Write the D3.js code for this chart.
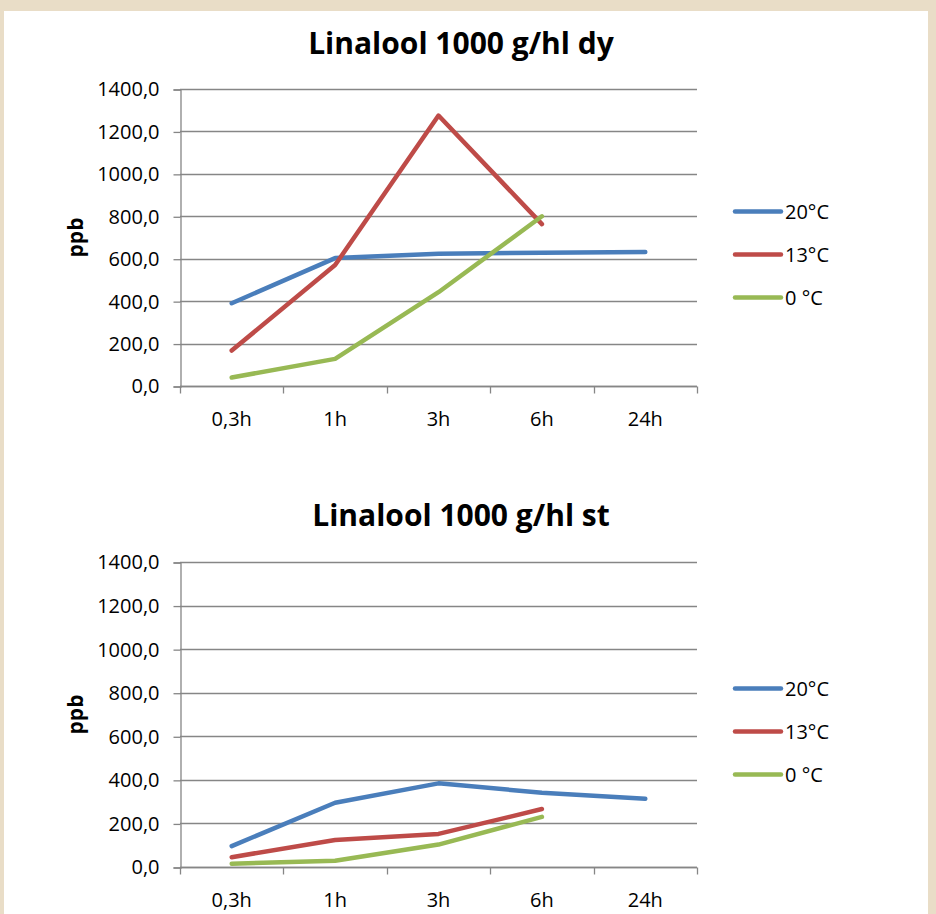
<!DOCTYPE html>
<html>
<head>
<meta charset="utf-8">
<script src="https://cdn.jsdelivr.net/npm/d3@7"></script>
<style>
  html, body { margin: 0; padding: 0; background: #e9ddc7; }
  svg { display: block; }
  text { font-family: "Open Sans", Lato, sans-serif; fill: #000; }
</style>
</head>
<body>
<script>
// Sampling times (categories on the x axis)
const categories = ["0,3h", "1h", "3h", "6h", "24h"];
const seriesNames = ["20°C", "13°C", "0 °C"];
const seriesColors = ["#4a7ebb", "#be4b48", "#98b954"];
const yTicks = [0, 200, 400, 600, 800, 1000, 1200, 1400];

// Linalool (ppb), dosage 1000 g/hl, "dy" trial
const dy20 = [390, 603, 623, 628, 632];
const dy13 = [167, 570, 1275, 763];
const dy0  = [40, 128, 442, 800];

// Linalool (ppb), dosage 1000 g/hl, "st" trial
const st20 = [96, 295, 384, 341, 313];
const st13 = [45, 124, 152, 266];
const st0  = [15, 29, 103, 230];

const charts = [
  { title: "Linalool 1000 g/hl dy", series: [dy20, dy13, dy0], top: 89, bottom: 386, titleY: 54 },
  { title: "Linalool 1000 g/hl st", series: [st20, st13, st0], top: 562, bottom: 867, titleY: 526 }
];

const W = 936, H = 914;
const svg = d3.select("body").append("svg").attr("width", W).attr("height", H);

// white panel on the beige frame
svg.append("rect").attr("x", 4).attr("y", 11).attr("width", 924).attr("height", H - 11).attr("fill", "#fff");

const gridColor = "#868686";
const left = 180, right = 697;
const labelFont = "20px";

charts.forEach(c => {
  const g = svg.append("g");
  const x = d3.scaleBand().domain(categories).range([left, right]);
  const y = d3.scaleLinear().domain([0, 1400]).range([c.bottom, c.top]);

  g.append("text").attr("x", 461).attr("y", c.titleY).attr("text-anchor", "middle")
    .style("font-size", "30px").style("font-weight", "bold").text(c.title);

  // horizontal gridlines
  g.selectAll(".grid").data(yTicks).join("line")
    .attr("x1", left).attr("x2", right)
    .attr("y1", d => Math.round(y(d)) + 0.5).attr("y2", d => Math.round(y(d)) + 0.5)
    .attr("stroke", gridColor).attr("stroke-width", 1.3);

  // y axis
  const yAxis = d3.axisLeft(y).tickValues(yTicks).tickSize(7).tickPadding(14)
    .tickFormat(d => d3.format(".1f")(d).replace(".", ","));
  const ya = g.append("g").attr("transform", `translate(${left + 0.5},0.5)`).call(yAxis);
  ya.select(".domain").attr("stroke", gridColor).attr("stroke-width", 1.3);
  ya.selectAll(".tick line").attr("stroke", gridColor).attr("stroke-width", 1.3);
  ya.selectAll(".tick text").style("font-size", labelFont).style("font-family", "'Open Sans', sans-serif").attr("fill", "#000");

  // x axis with tick marks at category boundaries
  const xa = g.append("g").attr("transform", `translate(0,${Math.round(c.bottom) + 0.5})`);
  xa.append("line").attr("x1", left).attr("x2", right).attr("stroke", gridColor).attr("stroke-width", 1.3);
  const bounds = categories.map(d => x(d)).concat([right]);
  xa.selectAll(".xt").data(bounds).join("line")
    .attr("x1", d => Math.round(d) + 0.5).attr("x2", d => Math.round(d) + 0.5)
    .attr("y1", 0).attr("y2", 7).attr("stroke", gridColor).attr("stroke-width", 1.3);
  xa.selectAll(".xl").data(categories).join("text")
    .attr("x", d => x(d) + x.bandwidth() / 2).attr("y", 39)
    .attr("text-anchor", "middle").style("font-size", labelFont).text(d => d);

  // axis title
  const mid = (c.top + c.bottom) / 2;
  g.append("text").attr("transform", `translate(83,${mid}) rotate(-90)`)
    .attr("text-anchor", "middle").style("font-size", "21px").style("font-weight", "bold").text("ppb");

  // series lines
  const line = d3.line().x((d, i) => x(categories[i]) + x.bandwidth() / 2).y(d => y(d));
  c.series.forEach((s, i) => {
    g.append("path").datum(s).attr("d", line)
      .attr("fill", "none").attr("stroke", seriesColors[i]).attr("stroke-width", 4.5)
      .attr("stroke-linejoin", "round").attr("stroke-linecap", "round");
  });

  // legend
  const legY0 = mid - 26;
  seriesNames.forEach((n, i) => {
    const ly = legY0 + i * 43;
    g.append("line").attr("x1", 735).attr("x2", 781).attr("y1", ly).attr("y2", ly)
      .attr("stroke", seriesColors[i]).attr("stroke-width", 4.5).attr("stroke-linecap", "round");
    g.append("text").attr("x", 785).attr("y", ly + 7).style("font-size", labelFont).text(n);
  });
});
</script>
</body>
</html>
